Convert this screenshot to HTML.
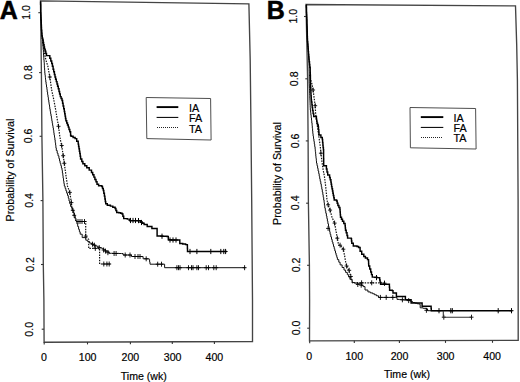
<!DOCTYPE html>
<html><head><meta charset="utf-8"><style>
html,body{margin:0;padding:0;background:#fff;}
svg{display:block;}
text{font-family:"Liberation Sans", sans-serif;fill:#000;stroke:#000;stroke-width:0.18px;}
</style></head><body>
<svg width="520" height="382" viewBox="0 0 520 382">
<rect width="520" height="382" fill="#fff"/>
<polygon points="40.5,0.8 248.9,3.9 250.2,60.0 251.0,130.0 251.7,200.0 252.5,300.0 252.5,341.5 44.1,342.2 43.9,300.0 43.3,264.5 42.9,200.0 41.9,136.0 41.4,72.6" fill="none" stroke="#444" stroke-width="1.35" stroke-linejoin="miter"/><path d="M38.3 12.7H40.6" stroke="#333" stroke-width="1.1"/><path d="M39.1 72.6H41.4" stroke="#333" stroke-width="1.1"/><path d="M39.6 136.3H41.9" stroke="#333" stroke-width="1.1"/><path d="M40.6 200.6H42.9" stroke="#333" stroke-width="1.1"/><path d="M41.0 264.5H43.3" stroke="#333" stroke-width="1.1"/><path d="M41.7 329.2H44.0" stroke="#333" stroke-width="1.1"/><path d="M44.2 342.2V344.5" stroke="#333" stroke-width="1.1"/><path d="M87.5 342.1V344.4" stroke="#333" stroke-width="1.1"/><path d="M130.4 341.9V344.2" stroke="#333" stroke-width="1.1"/><path d="M172.3 341.8V344.1" stroke="#333" stroke-width="1.1"/><path d="M214.4 341.6V343.9" stroke="#333" stroke-width="1.1"/><text transform="translate(30.2,12.4) rotate(-90)" text-anchor="middle" font-size="10.6">1.0</text><text transform="translate(32.2,72.5) rotate(-90)" text-anchor="middle" font-size="10.6">0.8</text><text transform="translate(32.2,136.0) rotate(-90)" text-anchor="middle" font-size="10.6">0.6</text><text transform="translate(32.6,200.4) rotate(-90)" text-anchor="middle" font-size="10.6">0.4</text><text transform="translate(34.1,264.5) rotate(-90)" text-anchor="middle" font-size="10.6">0.2</text><text transform="translate(33.2,329.3) rotate(-90)" text-anchor="middle" font-size="10.6">0.0</text><text x="43.9" y="360.8" text-anchor="middle" font-size="10.6">0</text><text x="87.6" y="360.8" text-anchor="middle" font-size="10.6">100</text><text x="130.4" y="360.8" text-anchor="middle" font-size="10.6">200</text><text x="172.6" y="360.8" text-anchor="middle" font-size="10.6">300</text><text x="214.4" y="360.8" text-anchor="middle" font-size="10.6">400</text><polyline points="40.6,1.5 40.6,1.5 40.6,4.3 40.7,4.3 40.7,7.1 40.7,7.1 40.7,9.9 40.7,9.9 40.7,12.7 40.8,12.7 40.8,15.2 40.9,15.2 40.9,17.6 41.0,17.6 41.0,20.1 41.2,20.1 41.2,22.6 41.3,22.6 41.3,25.1 41.4,25.1 41.4,27.5 41.5,27.5 41.5,30.0 41.7,30.0 41.7,33.0 41.9,33.0 41.9,36.0 42.3,36.0 42.3,39.0 42.8,39.0 42.8,42.0 42.9,42.0 42.9,44.7 43.1,44.7 43.1,47.3 43.2,47.3 43.2,50.0 43.4,50.0 43.4,52.5 43.5,52.5 43.5,55.0 43.7,55.0 43.7,57.5 43.9,57.5 43.9,60.0 44.1,60.0 44.1,62.6 44.3,62.6 44.3,65.2 44.4,65.2 44.4,67.9 44.6,67.9 44.6,70.5 44.8,70.5 44.8,73.1 45.0,73.1 45.0,75.3 45.3,75.3 45.3,77.5 45.5,77.5 45.5,79.8 45.8,79.8 45.8,82.0 46.1,82.0 46.1,84.5 46.5,84.5 46.5,87.0 46.9,87.0 46.9,89.5 47.2,89.5 47.2,92.0 47.6,92.0 47.6,94.7 48.0,94.7 48.0,97.3 48.4,97.3 48.4,100.0 48.8,100.0 48.8,102.3 49.1,102.3 49.1,104.6 49.5,104.6 49.5,106.8 49.8,106.8 49.8,109.1 50.2,109.1 50.2,111.4 50.6,111.4 50.6,113.8 51.0,113.8 51.0,116.1 51.4,116.1 51.4,118.5 51.8,118.5 51.8,120.8 52.2,120.8 52.2,123.2 52.6,123.2 52.6,125.5 53.0,125.5 53.0,127.9 53.4,127.9 53.4,130.3 53.8,130.3 53.8,132.8 54.1,132.8 54.1,135.2 54.5,135.2 54.5,137.6 54.9,137.6 54.9,140.0 55.2,140.0 55.2,142.6 55.6,142.6 55.6,145.2 55.9,145.2 55.9,147.9 56.3,147.9 56.3,150.5 57.2,150.5 57.2,153.2 58.0,153.2 58.0,155.8 58.9,155.8 58.9,158.5 59.5,158.5 59.5,160.9 60.1,160.9 60.1,163.3 60.8,163.3 60.8,165.6 61.4,165.6 61.4,168.0 62.0,168.0 62.0,170.4 62.4,170.4 62.4,173.0 62.8,173.0 62.8,175.6 63.1,175.6 63.1,178.2 63.5,178.2 63.5,180.9 63.9,180.9 63.9,183.5 64.3,183.5 64.3,186.1 65.1,186.1 65.1,188.4 65.9,188.4 65.9,190.8 66.7,190.8 66.7,193.2 67.5,193.2 67.5,195.5 68.3,195.5 68.3,198.2 69.0,198.2 69.0,201.0 69.8,201.0 69.8,203.8 70.6,203.8 70.6,206.5 71.8,206.5 71.8,208.5 72.9,208.5 72.9,210.5 73.7,210.5 73.7,213.1 74.4,213.1 74.4,215.7 75.2,215.7 75.2,218.3 76.0,218.3 76.0,221.0 76.9,221.0 76.9,223.8 77.7,223.8 77.7,226.5 78.6,226.5 78.6,229.3 79.4,229.3 79.4,231.8 80.2,231.8 80.2,234.2 82.2,234.2 82.2,237.6 85.8,237.6 85.8,240.2 87.7,240.2 87.7,241.6 89.6,241.6 89.6,243.1 91.5,243.1 91.5,244.1 93.5,244.1 93.5,245.0 95.4,245.0 95.4,245.9 97.3,245.9 97.3,246.9 99.7,246.9 99.7,247.9 102.1,247.9 102.1,248.8 104.0,248.8 104.0,250.0 106.0,250.0 106.0,251.2 108.8,251.2 108.8,253.3 111.3,253.3 111.3,253.3 113.9,253.3 113.9,253.4 116.4,253.4 116.4,253.4 119.0,253.4 119.0,253.5 121.5,253.5 121.5,253.5 123.1,253.5 123.1,255.0 131.5,255.0 131.5,256.5 141.0,256.5 143.1,256.5 143.1,258.8 147.0,258.8 149.2,258.8 149.2,259.6 149.6,259.6 149.6,261.9 150.0,261.9 150.0,264.2 163.5,264.2 164.6,264.2 164.6,267.7 245.4,267.7" fill="none" stroke="#111" stroke-width="1.0"/><polyline points="42.6,42.0 43.8,50.0 45.9,60.0 47.8,66.0 49.8,77.0 51.7,90.1 53.7,99.3 55.7,110.0 57.0,118.0 58.5,126.3 59.6,135.0 60.4,140.0 61.7,145.5 63.2,155.7 64.3,163.3 65.9,175.1 67.5,186.1 69.8,192.4 71.4,202.6 72.2,210.0 73.5,213.0 76.0,221.5 85.7,221.5 85.7,236.1 88.7,239.4 88.7,248.4 99.6,248.4 99.6,264.0 111.0,264.0" fill="none" stroke="#111" stroke-width="1.2" stroke-dasharray="1.5 1.2"/><polyline points="40.6,1.5 40.6,1.5 40.6,4.3 40.7,4.3 40.7,7.1 40.7,7.1 40.7,9.9 40.7,9.9 40.7,12.7 40.8,12.7 40.8,15.2 40.9,15.2 40.9,17.6 41.0,17.6 41.0,20.1 41.2,20.1 41.2,22.6 41.3,22.6 41.3,25.1 41.4,25.1 41.4,27.5 41.5,27.5 41.5,30.0 41.7,30.0 41.7,33.0 41.9,33.0 41.9,36.0 42.3,36.0 42.3,38.2 42.8,38.2 42.8,40.3 43.2,40.3 43.2,42.5 43.6,42.5 43.6,44.7 44.1,44.7 44.1,46.9 44.5,46.9 44.5,49.1 45.2,49.1 45.2,51.3 45.8,51.3 45.8,53.4 46.5,53.4 46.5,55.6 49.8,55.6 49.8,58.3 50.8,58.3 50.8,60.9 51.7,60.9 51.7,63.5 52.4,63.5 52.4,66.3 53.1,66.3 53.1,69.2 53.7,69.2 53.7,71.8 54.4,71.8 54.4,74.4 55.0,74.4 55.0,77.0 55.6,77.0 55.6,79.3 56.3,79.3 56.3,81.6 57.0,81.6 57.0,83.9 57.6,83.9 57.6,86.2 58.3,86.2 58.3,88.8 59.0,88.8 59.0,91.4 59.6,91.4 59.6,94.0 60.3,94.0 60.3,96.6 61.1,96.6 61.1,98.5 62.0,98.5 62.0,100.4 62.6,100.4 62.6,103.2 63.1,103.2 63.1,105.9 63.7,105.9 63.7,108.7 64.3,108.7 64.3,111.4 64.7,111.4 64.7,113.8 65.1,113.8 65.1,116.1 65.5,116.1 65.5,118.5 65.9,118.5 65.9,120.8 66.7,120.8 66.7,122.9 67.5,122.9 67.5,125.0 68.3,125.0 68.3,127.1 69.0,127.1 69.0,129.4 69.8,129.4 69.8,131.8 70.6,131.8 70.6,135.5 71.1,135.5 71.1,136.3 73.1,136.3 73.1,137.4 75.1,137.4 75.1,138.6 76.7,138.6 76.7,141.3 78.2,141.3 78.2,144.1 78.6,144.1 78.6,146.4 79.0,146.4 79.0,148.8 79.4,148.8 79.4,151.2 79.8,151.2 79.8,153.5 80.2,153.5 80.2,156.2 80.6,156.2 80.6,159.0 81.8,159.0 81.8,161.4 82.9,161.4 82.9,163.8 84.8,163.8 84.8,165.8 86.8,165.8 86.8,167.7 89.2,167.7 89.2,170.1 91.5,170.1 91.5,172.4 92.7,172.4 92.7,174.8 93.9,174.8 93.9,177.1 94.9,177.1 94.9,179.5 96.0,179.5 96.0,181.8 97.0,181.8 97.0,184.2 98.6,184.2 98.6,185.7 101.8,185.7 101.8,186.5 102.5,186.5 102.5,188.4 103.3,188.4 103.3,190.4 103.8,190.4 103.8,193.3 104.4,193.3 104.4,196.1 104.9,196.1 104.9,199.0 105.3,199.0 105.3,201.4 105.7,201.4 105.7,203.8 107.3,203.8 107.3,205.3 110.4,205.3 110.4,206.1 112.8,206.1 112.8,207.3 115.1,207.3 115.1,208.5 115.9,208.5 115.9,210.4 116.7,210.4 116.7,212.4 118.7,212.4 118.7,212.8 120.6,212.8 120.6,213.2 122.1,213.2 122.1,213.9 122.9,213.9 122.9,216.2 123.7,216.2 123.7,218.6 127.3,218.6 127.3,219.1 129.9,219.1 129.9,220.7 139.4,220.7 140.4,220.7 140.4,221.7 142.0,221.7 142.0,223.3 144.1,223.3 144.1,224.4 147.2,224.4 147.2,226.4 150.3,226.4 151.9,226.4 151.9,228.5 155.6,228.5 157.1,228.5 157.1,230.6 157.1,235.9 159.6,235.9 159.6,236.0 162.1,236.0 162.1,236.2 164.6,236.2 164.6,236.3 167.1,236.3 167.1,236.4 168.3,236.4 168.3,239.8 171.0,239.8 171.0,239.9 173.8,239.9 173.8,239.9 176.5,239.9 176.5,239.9 179.2,239.9 179.2,240.0 179.8,240.0 179.8,243.4 182.7,243.4 182.7,244.0 185.6,244.0 185.6,244.6 187.3,244.6 187.3,245.3 187.4,245.3 187.4,248.4 187.5,248.4 187.5,251.5 226.9,251.5" fill="none" stroke="#000" stroke-width="1.45"/><g stroke="#000"><path d="M130.5 217.9V223.1M128.5 220.5H132.5" stroke-width="1.0"/><path d="M133.0 217.9V223.1M131.0 220.5H135.0" stroke-width="1.0"/><path d="M135.5 217.9V223.1M133.5 220.5H137.5" stroke-width="1.0"/><path d="M138.5 218.0V223.2M136.5 220.6H140.5" stroke-width="1.0"/><path d="M141.5 219.9V225.1M139.5 222.5H143.5" stroke-width="1.0"/><path d="M162.0 233.6V238.8M160.0 236.2H164.0" stroke-width="1.0"/><path d="M170.0 237.4V242.6M168.0 240.0H172.0" stroke-width="1.0"/><path d="M173.0 237.4V242.6M171.0 240.0H175.0" stroke-width="1.0"/><path d="M176.0 237.4V242.6M174.0 240.0H178.0" stroke-width="1.0"/><path d="M190.0 248.9V254.1M188.0 251.5H192.0" stroke-width="1.0"/><path d="M196.9 248.9V254.1M194.9 251.5H198.9" stroke-width="1.0"/><path d="M210.8 248.9V254.1M208.8 251.5H212.8" stroke-width="1.0"/><path d="M220.8 248.9V254.1M218.8 251.5H222.8" stroke-width="1.0"/><path d="M223.8 248.9V254.1M221.8 251.5H225.8" stroke-width="1.0"/><path d="M225.6 248.9V254.1M223.6 251.5H227.6" stroke-width="1.0"/><path d="M92.5 241.7V246.7M90.5 244.2H94.5" stroke-width="0.9"/><path d="M94.4 242.7V247.7M92.4 245.2H96.4" stroke-width="0.9"/><path d="M99.2 245.1V250.1M97.2 247.6H101.2" stroke-width="0.9"/><path d="M103.6 247.5V252.5M101.6 250.0H105.6" stroke-width="0.9"/><path d="M105.5 248.6V253.6M103.5 251.1H107.5" stroke-width="0.9"/><path d="M107.9 250.2V255.2M105.9 252.7H109.9" stroke-width="0.9"/><path d="M114.1 251.0V256.0M112.1 253.5H116.1" stroke-width="0.9"/><path d="M116.1 251.0V256.0M114.1 253.5H118.1" stroke-width="0.9"/><path d="M125.2 252.5V257.5M123.2 255.0H127.2" stroke-width="0.9"/><path d="M130.0 252.5V257.5M128.0 255.0H132.0" stroke-width="0.9"/><path d="M135.0 254.0V259.0M133.0 256.5H137.0" stroke-width="0.9"/><path d="M138.0 254.0V259.0M136.0 256.5H140.0" stroke-width="0.9"/><path d="M140.0 254.0V259.0M138.0 256.5H142.0" stroke-width="0.9"/><path d="M146.2 256.3V261.3M144.2 258.8H148.2" stroke-width="0.9"/><path d="M157.7 261.7V266.7M155.7 264.2H159.7" stroke-width="0.9"/><path d="M161.5 261.7V266.7M159.5 264.2H163.5" stroke-width="0.9"/><path d="M176.9 265.2V270.2M174.9 267.7H178.9" stroke-width="0.9"/><path d="M178.5 265.2V270.2M176.5 267.7H180.5" stroke-width="0.9"/><path d="M180.0 265.2V270.2M178.0 267.7H182.0" stroke-width="0.9"/><path d="M188.5 265.2V270.2M186.5 267.7H190.5" stroke-width="0.9"/><path d="M191.5 265.2V270.2M189.5 267.7H193.5" stroke-width="0.9"/><path d="M193.0 265.2V270.2M191.0 267.7H195.0" stroke-width="0.9"/><path d="M196.9 265.2V270.2M194.9 267.7H198.9" stroke-width="0.9"/><path d="M198.5 265.2V270.2M196.5 267.7H200.5" stroke-width="0.9"/><path d="M206.2 265.2V270.2M204.2 267.7H208.2" stroke-width="0.9"/><path d="M208.5 265.2V270.2M206.5 267.7H210.5" stroke-width="0.9"/><path d="M213.8 265.2V270.2M211.8 267.7H215.8" stroke-width="0.9"/><path d="M216.2 265.2V270.2M214.2 267.7H218.2" stroke-width="0.9"/><path d="M244.6 265.2V270.2M242.6 267.7H246.6" stroke-width="0.9"/><path d="M49.8 74.5V79.5M47.8 77.0H51.8" stroke-width="0.9"/><path d="M58.5 123.8V128.8M56.5 126.3H60.5" stroke-width="0.9"/><path d="M61.7 143.0V148.0M59.7 145.5H63.7" stroke-width="0.9"/><path d="M63.2 153.2V158.2M61.2 155.7H65.2" stroke-width="0.9"/><path d="M64.3 160.8V165.8M62.3 163.3H66.3" stroke-width="0.9"/><path d="M69.8 189.9V194.9M67.8 192.4H71.8" stroke-width="0.9"/><path d="M71.4 200.1V205.1M69.4 202.6H73.4" stroke-width="0.9"/><path d="M72.8 207.8V212.8M70.8 210.3H74.8" stroke-width="0.9"/><path d="M74.2 212.8V217.8M72.2 215.3H76.2" stroke-width="0.9"/><path d="M78.0 219.0V224.0M76.0 221.5H80.0" stroke-width="0.9"/><path d="M80.0 219.0V224.0M78.0 221.5H82.0" stroke-width="0.9"/><path d="M82.0 219.0V224.0M80.0 221.5H84.0" stroke-width="0.9"/><path d="M84.5 219.0V224.0M82.5 221.5H86.5" stroke-width="0.9"/><path d="M85.7 233.6V238.6M83.7 236.1H87.7" stroke-width="0.9"/><path d="M95.3 245.9V250.9M93.3 248.4H97.3" stroke-width="0.9"/><path d="M103.8 261.5V266.5M101.8 264.0H105.8" stroke-width="0.9"/><path d="M106.9 261.5V266.5M104.9 264.0H108.9" stroke-width="0.9"/><path d="M109.2 261.5V266.5M107.2 264.0H111.2" stroke-width="0.9"/></g><polygon points="146.2,97.5 210.6,98.5 211.1,140.0 146.8,138.6" fill="none" stroke="#444" stroke-width="0.95"/><path d="M156.6 107.1H178.3" stroke="#000" stroke-width="1.9"/><path d="M156.6 117.45H178.3" stroke="#111" stroke-width="1.15"/><path d="M157 127.5H178" stroke="#222" stroke-width="1" stroke-dasharray="1 1"/><text x="189.0" y="111.8" font-size="10.8">IA</text><text x="189.0" y="122.2" font-size="10.8">FA</text><text x="189.0" y="132.6" font-size="10.8">TA</text><text x="-0.3" y="19.0" font-size="25" font-weight="bold" style="stroke-width:0.5px">A</text><text transform="translate(14.0,170.0) rotate(-90)" text-anchor="middle" font-size="10.7">Probability of Survival</text><text x="143.8" y="380.0" text-anchor="middle" font-size="10.6">Time (wk)</text>
<polygon points="306.0,4.5 515.5,5.9 516.7,45.0 517.4,80.0 518.1,200.0 518.2,340.4 309.5,340.9 309.6,300.0 309.4,265.0 308.4,203.0 308.1,141.0 307.6,78.8" fill="none" stroke="#444" stroke-width="1.35" stroke-linejoin="miter"/><path d="M304.0 16.5H306.3" stroke="#333" stroke-width="1.1"/><path d="M305.3 78.8H307.6" stroke="#333" stroke-width="1.1"/><path d="M305.8 140.9H308.1" stroke="#333" stroke-width="1.1"/><path d="M306.1 203.2H308.4" stroke="#333" stroke-width="1.1"/><path d="M307.1 265.3H309.4" stroke="#333" stroke-width="1.1"/><path d="M307.2 328.2H309.5" stroke="#333" stroke-width="1.1"/><path d="M309.7 340.9V343.2" stroke="#333" stroke-width="1.1"/><path d="M354.3 340.8V343.1" stroke="#333" stroke-width="1.1"/><path d="M399.4 340.7V343.0" stroke="#333" stroke-width="1.1"/><path d="M445.5 340.6V342.9" stroke="#333" stroke-width="1.1"/><path d="M492.5 340.5V342.8" stroke="#333" stroke-width="1.1"/><text transform="translate(296.9,16.2) rotate(-90)" text-anchor="middle" font-size="10.6">1.0</text><text transform="translate(298.3,78.8) rotate(-90)" text-anchor="middle" font-size="10.6">0.8</text><text transform="translate(298.8,141.0) rotate(-90)" text-anchor="middle" font-size="10.6">0.6</text><text transform="translate(298.8,202.8) rotate(-90)" text-anchor="middle" font-size="10.6">0.4</text><text transform="translate(300.1,265.0) rotate(-90)" text-anchor="middle" font-size="10.6">0.2</text><text transform="translate(300.3,328.0) rotate(-90)" text-anchor="middle" font-size="10.6">0.0</text><text x="309.2" y="359.5" text-anchor="middle" font-size="10.6">0</text><text x="354.3" y="359.5" text-anchor="middle" font-size="10.6">100</text><text x="399.5" y="359.5" text-anchor="middle" font-size="10.6">200</text><text x="445.6" y="359.5" text-anchor="middle" font-size="10.6">300</text><text x="492.1" y="359.5" text-anchor="middle" font-size="10.6">400</text><polyline points="306.3,5.0 306.4,5.0 306.4,7.4 306.5,7.4 306.5,9.9 306.5,9.9 306.5,12.3 306.6,12.3 306.6,14.7 306.7,14.7 306.7,17.1 306.8,17.1 306.8,19.6 306.9,19.6 306.9,22.0 306.9,22.0 306.9,24.4 307.0,24.4 307.0,26.8 307.1,26.8 307.1,29.3 307.2,29.3 307.2,31.7 307.3,31.7 307.3,34.1 307.3,34.1 307.3,36.5 307.4,36.5 307.4,39.0 307.5,39.0 307.5,41.4 307.7,41.4 307.7,43.9 307.9,43.9 307.9,46.5 308.1,46.5 308.1,49.0 308.3,49.0 308.3,51.6 308.5,51.6 308.5,54.1 308.7,54.1 308.7,56.7 308.9,56.7 308.9,59.2 309.1,59.2 309.1,61.8 309.1,61.8 309.1,64.2 309.1,64.2 309.1,66.6 309.1,66.6 309.1,69.1 309.1,69.1 309.1,71.5 309.2,71.5 309.2,73.9 309.2,73.9 309.2,76.3 309.2,76.3 309.2,78.8 309.2,78.8 309.2,81.2 309.2,81.2 309.2,83.6 309.3,83.6 309.3,86.0 309.4,86.0 309.4,88.4 309.5,88.4 309.5,90.8 309.6,90.8 309.6,93.2 309.7,93.2 309.7,95.6 309.8,95.6 309.8,98.0 309.9,98.0 309.9,100.4 310.0,100.4 310.0,102.8 310.1,102.8 310.1,105.2 310.2,105.2 310.2,107.6 310.3,107.6 310.3,110.0 310.6,110.0 310.6,112.6 310.9,112.6 310.9,115.2 311.2,115.2 311.2,117.9 311.5,117.9 311.5,120.5 311.8,120.5 311.8,123.1 312.1,123.1 312.1,125.7 312.3,125.7 312.3,128.3 312.6,128.3 312.6,131.0 312.8,131.0 312.8,133.6 313.1,133.6 313.1,136.2 313.5,136.2 313.5,138.8 313.9,138.8 313.9,141.4 314.3,141.4 314.3,144.1 314.7,144.1 314.7,146.7 315.1,146.7 315.1,149.3 315.3,149.3 315.3,151.6 315.6,151.6 315.6,153.9 315.8,153.9 315.8,156.2 316.0,156.2 316.0,158.5 316.3,158.5 316.3,160.8 316.5,160.8 316.5,163.1 317.0,163.1 317.0,165.7 317.6,165.7 317.6,168.3 318.1,168.3 318.1,171.0 318.7,171.0 318.7,173.6 319.2,173.6 319.2,176.2 319.7,176.2 319.7,178.8 320.2,178.8 320.2,181.4 320.8,181.4 320.8,184.1 321.3,184.1 321.3,186.7 321.8,186.7 321.8,189.3 322.3,189.3 322.3,192.0 322.8,192.0 322.8,194.7 323.2,194.7 323.2,197.3 323.7,197.3 323.7,200.0 324.1,200.0 324.1,202.7 324.4,202.7 324.4,205.4 324.8,205.4 324.8,208.1 325.3,208.1 325.3,210.7 325.8,210.7 325.8,213.3 326.4,213.3 326.4,216.0 326.9,216.0 326.9,218.6 327.4,218.6 327.4,221.2 327.9,221.2 327.9,223.8 328.5,223.8 328.5,226.4 329.0,226.4 329.0,229.1 329.6,229.1 329.6,231.7 330.1,231.7 330.1,234.3 330.8,234.3 330.8,236.9 331.5,236.9 331.5,239.4 332.2,239.4 332.2,242.0 332.9,242.0 332.9,244.2 333.5,244.2 333.5,246.5 334.2,246.5 334.2,248.7 334.8,248.7 334.8,250.9 335.5,250.9 335.5,253.1 336.1,253.1 336.1,255.3 336.8,255.3 336.8,257.4 337.4,257.4 337.4,259.6 338.8,259.6 338.8,262.2 340.1,262.2 340.1,264.9 342.1,264.9 342.1,267.5 344.0,267.5 344.0,270.1 345.6,270.1 345.6,272.4 347.3,272.4 347.3,274.7 348.6,274.7 348.6,277.0 349.9,277.0 349.9,279.3 352.2,279.3 352.2,282.5 354.9,282.5 354.9,283.1 357.7,283.1 357.7,283.8 361.2,283.8 361.2,285.2 363.1,285.2 363.1,286.6 365.0,286.6 365.0,290.0 367.9,290.0 367.9,291.9 370.3,291.9 370.3,292.9 372.7,292.9 372.7,293.8 374.6,293.8 374.6,294.8 376.5,294.8 376.5,295.8 378.5,295.8 378.5,297.4 395.9,297.4 397.0,297.4 397.0,299.4 399.3,299.4 399.3,299.6 401.7,299.6 401.7,299.8 404.0,299.8 404.0,300.0 406.4,300.0 406.4,300.2 408.7,300.2 408.7,300.4 410.6,300.4 410.6,301.4 412.5,301.4 412.5,302.5 414.9,302.5 414.9,303.1 417.3,303.1 417.3,303.8 419.7,303.8 419.7,304.4 420.2,304.4 420.2,307.8 423.1,307.8 423.1,308.3 426.0,308.3 426.0,308.8 427.5,308.8 427.5,310.7 443.3,310.7" fill="none" stroke="#111" stroke-width="1.0"/><polyline points="309.5,75.0 310.8,80.0 312.0,84.2 313.1,90.0 314.1,97.8 315.2,105.7 315.7,114.6 316.4,119.2 317.5,127.0 319.0,137.5 320.3,146.6 320.9,153.2 321.8,160.5 323.1,169.6 324.4,176.2 325.7,186.6 327.0,200.0 328.1,204.8 330.1,210.1 332.0,217.3 334.6,223.1 335.9,230.3 337.3,238.2 338.6,245.0 340.1,245.2 343.3,249.2 344.6,255.7 345.9,263.6 348.6,270.1 350.5,275.3 351.2,279.3 352.5,282.8 384.2,282.8" fill="none" stroke="#111" stroke-width="1.2" stroke-dasharray="1.5 1.2"/><polyline points="306.3,5.0 306.4,5.0 306.4,7.4 306.5,7.4 306.5,9.9 306.5,9.9 306.5,12.3 306.6,12.3 306.6,14.7 306.7,14.7 306.7,17.1 306.8,17.1 306.8,19.6 306.9,19.6 306.9,22.0 306.9,22.0 306.9,24.4 307.0,24.4 307.0,26.8 307.1,26.8 307.1,29.3 307.2,29.3 307.2,31.7 307.3,31.7 307.3,34.1 307.3,34.1 307.3,36.5 307.4,36.5 307.4,39.0 307.5,39.0 307.5,41.4 307.7,41.4 307.7,43.9 307.9,43.9 307.9,46.5 308.1,46.5 308.1,49.0 308.3,49.0 308.3,51.6 308.5,51.6 308.5,54.1 308.7,54.1 308.7,56.7 308.9,56.7 308.9,59.2 309.1,59.2 309.1,61.8 309.5,61.8 309.5,64.5 309.8,64.5 309.8,67.3 310.2,67.3 310.2,70.0 310.2,70.0 310.2,72.5 310.3,72.5 310.3,75.1 310.4,75.1 310.4,77.6 310.4,77.6 310.4,80.1 310.4,80.1 310.4,82.7 310.5,82.7 310.5,85.2 310.6,85.2 310.6,87.8 310.8,87.8 310.8,90.5 310.9,90.5 310.9,93.1 311.0,93.1 311.0,95.7 311.2,95.7 311.2,97.8 311.3,97.8 311.3,99.9 311.5,99.9 311.5,102.0 311.9,102.0 311.9,104.8 312.2,104.8 312.2,107.6 312.6,107.6 312.6,110.4 313.1,110.4 313.1,113.5 313.7,113.5 313.7,116.5 316.4,116.5 316.4,119.2 316.7,119.2 316.7,121.2 317.0,121.2 317.0,123.1 317.6,123.1 317.6,125.0 318.3,125.0 318.3,127.0 318.5,127.0 318.5,129.6 318.8,129.6 318.8,132.3 319.0,132.3 319.0,134.9 320.9,134.9 320.9,137.5 322.3,137.5 322.3,139.5 322.6,139.5 322.6,142.4 322.9,142.4 322.9,145.3 323.1,145.3 323.1,147.5 323.4,147.5 323.4,149.7 323.6,149.7 323.6,151.9 323.6,151.9 323.6,154.2 323.6,154.2 323.6,156.5 323.6,156.5 323.6,158.8 323.7,158.8 323.7,161.1 323.7,161.1 323.7,163.4 323.7,163.4 323.7,165.7 326.4,165.7 326.4,169.0 327.0,169.0 327.0,171.9 327.7,171.9 327.7,174.9 329.6,174.9 329.6,177.5 330.2,177.5 330.2,179.8 330.9,179.8 330.9,182.1 331.2,182.1 331.2,184.3 331.6,184.3 331.6,186.6 332.0,186.6 332.0,188.8 332.5,188.8 332.5,191.0 332.9,191.0 332.9,193.2 333.3,193.2 333.3,195.5 333.8,195.5 333.8,197.7 334.2,197.7 334.2,200.0 336.6,200.0 336.6,200.9 337.2,200.9 337.2,203.2 337.9,203.2 337.9,205.5 338.9,205.5 338.9,207.4 339.9,207.4 339.9,209.4 340.1,209.4 340.1,212.0 340.3,212.0 340.3,214.7 340.5,214.7 340.5,217.3 341.5,217.3 341.5,219.2 342.5,219.2 342.5,221.2 343.8,221.2 343.8,223.5 345.1,223.5 345.1,225.8 345.3,225.8 345.3,228.0 345.5,228.0 345.5,230.2 346.2,230.2 346.2,232.8 347.0,232.8 347.0,235.5 347.6,235.5 347.6,238.1 351.2,238.1 351.2,238.6 351.5,238.6 351.5,240.9 351.8,240.9 351.8,243.3 353.3,243.3 353.3,245.9 357.0,245.9 357.0,246.5 358.6,246.5 358.6,247.5 360.1,247.5 360.1,251.2 361.7,251.2 361.7,254.3 363.8,254.3 363.8,256.4 365.4,256.4 365.4,258.0 367.5,258.0 367.5,259.6 368.5,259.6 368.5,261.1 368.6,261.1 368.6,263.6 368.7,263.6 368.7,266.0 369.7,266.0 369.7,269.0 370.7,269.0 370.7,272.0 371.5,272.0 371.5,274.6 372.3,274.6 372.3,277.1 374.6,277.1 374.6,277.3 376.9,277.3 376.9,277.6 379.2,277.6 379.2,277.8 379.7,277.8 379.7,279.9 380.1,279.9 380.1,282.1 380.6,282.1 380.6,284.2 389.2,284.2 389.4,284.2 389.4,287.2 389.6,287.2 389.6,290.3 392.3,290.3 392.3,290.6 393.0,290.6 393.0,293.0 395.7,293.0 396.4,293.0 396.4,296.4 405.0,296.4 405.4,296.4 405.4,299.6 410.6,299.6 411.1,299.6 411.1,303.0 421.6,303.0 422.1,303.0 422.1,306.3 430.8,306.3 431.1,306.3 431.1,308.5 431.3,308.5 431.3,310.7 512.3,310.7" fill="none" stroke="#000" stroke-width="1.45"/><g stroke="#000"><path d="M376.5 275.0V280.2M374.5 277.6H378.5" stroke-width="1.0"/><path d="M384.5 280.6V285.8M382.5 283.2H386.5" stroke-width="1.0"/><path d="M439.0 308.1V313.3M437.0 310.7H441.0" stroke-width="1.0"/><path d="M450.8 308.1V313.3M448.8 310.7H452.8" stroke-width="1.0"/><path d="M452.3 308.1V313.3M450.3 310.7H454.3" stroke-width="1.0"/><path d="M498.2 308.1V313.3M496.2 310.7H500.2" stroke-width="1.0"/><path d="M511.5 308.1V313.3M509.5 310.7H513.5" stroke-width="1.0"/><path d="M328.1 225.9V230.9M326.1 228.4H330.1" stroke-width="0.9"/><path d="M357.8 282.0V287.0M355.8 284.5H359.8" stroke-width="0.9"/><path d="M361.2 282.7V287.7M359.2 285.2H363.2" stroke-width="0.9"/><path d="M380.4 294.9V299.9M378.4 297.4H382.4" stroke-width="0.9"/><path d="M386.2 294.9V299.9M384.2 297.4H388.2" stroke-width="0.9"/><path d="M392.8 294.9V299.9M390.8 297.4H394.8" stroke-width="0.9"/><path d="M402.4 297.3V302.3M400.4 299.8H404.4" stroke-width="0.9"/><path d="M408.7 298.1V303.1M406.7 300.6H410.7" stroke-width="0.9"/><path d="M426.4 307.8V312.8M424.4 310.3H428.4" stroke-width="0.9"/><path d="M443.8 314.7V319.7M441.8 317.2H445.8" stroke-width="0.9"/><path d="M471.5 314.7V319.7M469.5 317.2H473.5" stroke-width="0.9"/><path d="M313.1 87.5V92.5M311.1 90.0H315.1" stroke-width="0.9"/><path d="M315.2 103.2V108.2M313.2 105.7H317.2" stroke-width="0.9"/><path d="M320.9 150.7V155.7M318.9 153.2H322.9" stroke-width="0.9"/><path d="M328.1 202.3V207.3M326.1 204.8H330.1" stroke-width="0.9"/><path d="M330.1 207.6V212.6M328.1 210.1H332.1" stroke-width="0.9"/><path d="M334.6 220.6V225.6M332.6 223.1H336.6" stroke-width="0.9"/><path d="M337.3 235.7V240.7M335.3 238.2H339.3" stroke-width="0.9"/><path d="M340.1 242.7V247.7M338.1 245.2H342.1" stroke-width="0.9"/><path d="M343.3 246.7V251.7M341.3 249.2H345.3" stroke-width="0.9"/><path d="M346.6 263.5V268.5M344.6 266.0H348.6" stroke-width="0.9"/><path d="M349.2 267.8V272.8M347.2 270.3H351.2" stroke-width="0.9"/><path d="M350.8 274.0V279.0M348.8 276.5H352.8" stroke-width="0.9"/><path d="M361.6 280.3V285.3M359.6 282.8H363.6" stroke-width="0.9"/><path d="M371.7 280.3V285.3M369.7 282.8H373.7" stroke-width="0.9"/></g><polygon points="410.0,107.5 475.6,108.5 476.1,149.0 410.4,147.8" fill="none" stroke="#444" stroke-width="0.95"/><path d="M420.8 117.1H443.3" stroke="#000" stroke-width="1.9"/><path d="M420.8 127.45H443.3" stroke="#111" stroke-width="1.15"/><path d="M421 137.5H443" stroke="#222" stroke-width="1" stroke-dasharray="1 1"/><text x="453.5" y="121.8" font-size="10.8">IA</text><text x="453.5" y="131.7" font-size="10.8">FA</text><text x="453.5" y="142.0" font-size="10.8">TA</text><text x="266.8" y="19.0" font-size="25" font-weight="bold" style="stroke-width:0.5px">B</text><text transform="translate(280.5,173.5) rotate(-90)" text-anchor="middle" font-size="10.7">Probability of Survival</text><text x="407.0" y="378.2" text-anchor="middle" font-size="10.6">Time (wk)</text>
<polyline points="443.3,310.7 443.3,317.2 471.5,317.2" fill="none" stroke="#333" stroke-width="1.1"/>
</svg>
</body></html>
